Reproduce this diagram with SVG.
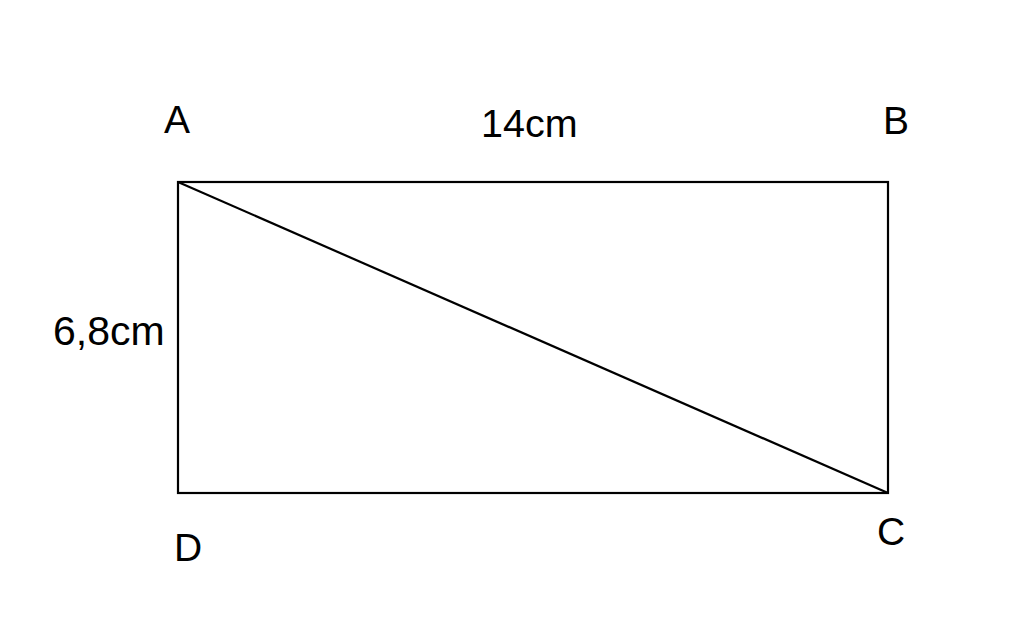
<svg xmlns="http://www.w3.org/2000/svg" width="1024" height="631" viewBox="0 0 1024 631">
<style>
text{font-family:"Liberation Sans",Arial,sans-serif;font-size:39px;fill:#000}
.ln{fill:none;stroke:#000;stroke-width:2.2}
</style>
<rect width="1024" height="631" fill="#fff"/>
<g id="connectors">
<rect class="ln" x="178" y="182" width="710" height="311"/>
<line class="ln" x1="178" y1="182" x2="888" y2="493"/>
</g>
<g id="A"><text x="164" y="133">A</text></g>
<g id="B"><text x="883" y="134">B</text></g>
<g id="C"><text x="877" y="545">C</text></g>
<g id="D"><text x="174" y="561">D</text></g>
<g id="len14"><text x="481" y="137" style="font-size:39.5px">14cm</text></g>
<g id="len68"><text x="53" y="345" style="font-size:41px">6,8cm</text></g>
</svg>
